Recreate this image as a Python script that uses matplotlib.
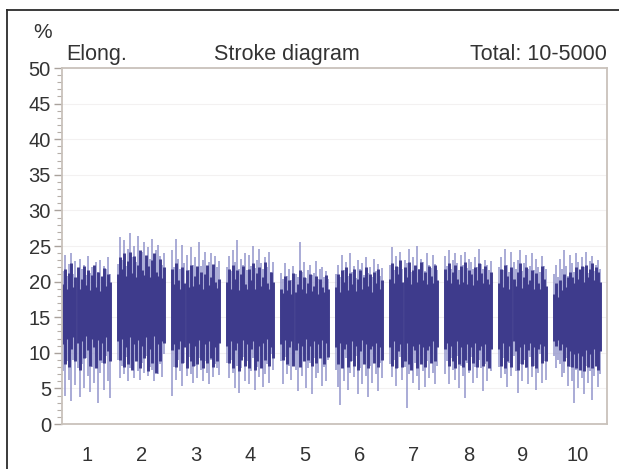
"""stroke_diagram.py - elongation stroke diagram, strokes 10-5000 in 10 blocks."""

import numpy as np
import matplotlib.pyplot as plt
from matplotlib.lines import Line2D

plt.rcParams["font.family"] = ["Liberation Sans", "DejaVu Sans"]

BLOCKS = ["1", "2", "3", "4", "5", "6", "7", "8", "9", "10"]
BLOCK_SIZE = 500

# light spikes: highest / lowest elongation reached in each stroke column (%)
SPIKE_HI = [
    [21.5, 23.8, 20.8, 22.5, 24.0, 21.0, 22.9, 20.5, 23.2, 21.7, 22.4, 20.9, 23.6, 21.2, 22.0, 20.6, 22.8, 21.4, 23.0, 20.7, 22.2, 21.8, 23.4, 21.0],
    [22.5, 26.2, 23.0, 25.8, 22.2, 24.6, 26.8, 23.4, 25.0, 22.8, 26.4, 23.8, 24.2, 25.6, 22.6, 24.8, 23.2, 26.0, 22.9, 24.4, 25.2, 23.6, 22.4, 24.0],
    [24.5, 22.0, 26.0, 23.2, 21.8, 25.2, 22.6, 23.8, 21.6, 24.8, 22.4, 23.4, 21.9, 25.6, 22.2, 23.0, 24.2, 21.7, 22.8, 24.0, 21.5, 23.6, 22.1, 22.9],
    [22.0, 23.6, 21.5, 24.4, 22.8, 25.8, 21.8, 23.2, 22.4, 24.0, 21.6, 23.8, 22.2, 25.0, 21.9, 23.0, 24.6, 22.6, 21.7, 23.4, 22.0, 24.2, 21.4, 22.7],
    [21.2, 20.4, 22.6, 20.8, 21.8, 20.2, 22.2, 21.0, 20.6, 25.6, 21.4, 22.8, 20.5, 21.6, 22.4, 20.9, 21.2, 22.9, 20.3, 21.7, 22.0, 20.7, 21.5, 20.4],
    [21.0, 22.4, 20.6, 23.8, 21.6, 22.8, 20.8, 24.0, 21.4, 22.2, 20.5, 23.0, 21.8, 22.6, 20.9, 23.4, 21.2, 22.0, 20.7, 23.2, 21.5, 22.5, 20.8, 21.9],
    [22.4, 24.8, 21.6, 23.6, 22.0, 24.2, 21.8, 23.0, 22.6, 24.6, 21.4, 23.4, 22.2, 25.0, 21.7, 23.2, 22.8, 21.5, 24.0, 22.3, 21.9, 23.8, 22.5, 21.6],
    [23.6, 22.2, 24.4, 21.8, 23.0, 24.0, 22.6, 21.6, 23.8, 22.4, 24.2, 21.9, 23.2, 22.8, 21.7, 23.4, 22.0, 24.6, 22.5, 21.8, 23.1, 22.3, 21.6, 22.9],
    [22.0, 23.4, 21.6, 24.6, 22.4, 21.4, 24.2, 22.8, 21.8, 23.0, 24.4, 21.5, 22.6, 23.8, 21.7, 22.2, 24.0, 21.6, 23.2, 22.0, 21.4, 23.6, 22.2, 21.8],
    [21.0, 22.4, 20.6, 23.2, 21.8, 24.4, 22.2, 20.8, 23.8, 22.6, 21.4, 24.0, 22.8, 21.6, 23.4, 22.0, 24.2, 21.2, 22.9, 23.6, 21.5, 22.3, 23.0, 21.8],
]
SPIKE_LO = [
    [7.5, 4.0, 8.8, 6.2, 3.2, 9.0, 5.5, 7.8, 3.8, 8.4, 5.0, 9.2, 6.8, 4.5, 8.0, 5.8, 9.4, 3.0, 7.2, 8.6, 4.8, 9.6, 6.0, 3.6],
    [9.0, 6.5, 8.2, 7.0, 9.4, 6.0, 7.8, 8.8, 6.4, 9.2, 7.4, 6.2, 8.6, 7.2, 9.6, 6.8, 8.0, 7.6, 6.1, 9.0, 7.0, 8.4, 6.6, 9.8],
    [4.0, 8.0, 6.2, 9.0, 7.4, 5.4, 8.6, 6.8, 9.4, 7.0, 5.8, 8.2, 6.4, 9.2, 7.6, 6.0, 8.8, 7.2, 5.6, 9.0, 6.6, 8.4, 7.8, 6.9],
    [8.6, 6.4, 9.0, 7.2, 5.0, 8.2, 4.4, 7.8, 9.4, 6.0, 8.8, 5.6, 7.4, 9.2, 4.8, 8.0, 6.6, 9.6, 5.2, 7.0, 8.4, 5.8, 9.8, 7.6],
    [8.8, 5.6, 9.4, 7.0, 8.2, 6.2, 9.0, 7.6, 4.6, 8.4, 6.8, 9.6, 5.0, 7.8, 8.6, 4.2, 9.2, 6.4, 7.2, 9.8, 5.4, 8.0, 6.0, 9.0],
    [7.6, 5.2, 2.6, 8.4, 6.0, 9.2, 4.8, 7.2, 8.8, 6.6, 9.6, 4.2, 7.8, 5.6, 9.0, 6.8, 3.8, 8.2, 5.8, 9.4, 7.0, 4.6, 8.6, 6.4],
    [8.4, 6.6, 9.0, 5.4, 7.8, 9.4, 6.2, 8.0, 2.2, 7.0, 9.2, 5.8, 8.6, 6.8, 4.8, 9.6, 7.4, 5.2, 8.8, 6.4, 9.8, 7.2, 5.6, 8.2],
    [7.0, 8.8, 5.6, 9.2, 7.6, 6.2, 9.6, 5.0, 8.2, 6.8, 3.6, 8.6, 7.2, 9.4, 5.8, 8.0, 6.4, 9.0, 7.8, 4.6, 8.4, 6.0, 9.8, 7.4],
    [8.0, 6.4, 9.2, 7.0, 5.2, 8.6, 6.8, 9.6, 7.4, 4.4, 8.4, 6.0, 9.0, 7.8, 5.6, 9.4, 6.6, 8.2, 4.8, 7.2, 9.8, 5.8, 8.8, 6.2],
    [9.6, 7.8, 9.0, 8.4, 6.6, 7.2, 9.2, 5.4, 8.0, 6.0, 3.0, 7.6, 5.0, 8.8, 6.4, 4.2, 8.2, 5.8, 7.4, 3.4, 6.8, 8.6, 5.2, 7.0],
]

# dark body: range covered by most strokes in each column (%)
CORE_HI = [
    [19.6, 21.8, 18.9, 21.2, 22.6, 19.2, 20.6, 22.0, 19.0, 20.4, 22.2, 19.5, 21.6, 18.8, 20.9, 22.4, 19.3, 21.4, 18.7, 20.8, 21.9, 19.4, 21.1, 20.0],
    [21.0, 23.4, 21.8, 24.0, 20.8, 22.9, 24.2, 21.2, 23.6, 20.6, 22.4, 24.4, 21.6, 20.9, 23.8, 22.2, 20.7, 23.0, 24.0, 21.4, 20.8, 23.2, 20.5, 22.0],
    [21.8, 19.6, 22.6, 20.2, 19.0, 22.0, 19.8, 21.6, 19.2, 22.4, 19.4, 20.8, 22.2, 19.7, 21.4, 18.9, 21.0, 22.3, 19.5, 20.6, 22.5, 20.0, 19.1, 20.4],
    [20.0, 21.8, 19.0, 22.4, 20.4, 21.6, 18.8, 21.0, 22.2, 19.6, 19.0, 21.8, 20.2, 22.6, 18.9, 21.2, 22.0, 19.4, 20.6, 22.8, 19.8, 19.0, 21.4, 20.0],
    [19.0, 18.4, 20.8, 18.8, 20.2, 18.2, 21.2, 18.6, 19.6, 21.6, 19.0, 20.6, 18.4, 19.8, 21.0, 18.7, 19.4, 20.8, 18.3, 20.4, 19.2, 18.5, 20.9, 18.9],
    [19.2, 21.0, 18.6, 21.6, 20.0, 22.0, 18.8, 21.2, 19.6, 21.8, 18.7, 20.4, 21.6, 19.0, 20.6, 22.0, 19.4, 21.0, 18.5, 21.4, 19.8, 21.8, 18.9, 20.2],
    [20.4, 22.6, 19.8, 22.2, 21.0, 23.0, 20.0, 22.0, 20.6, 22.8, 19.6, 21.6, 22.4, 19.9, 21.8, 22.8, 20.2, 21.4, 19.7, 22.2, 20.8, 19.8, 22.4, 20.2],
    [21.8, 20.2, 22.6, 19.8, 21.4, 22.4, 20.4, 19.6, 22.2, 20.0, 22.8, 19.7, 21.6, 21.0, 19.5, 22.0, 20.2, 22.6, 21.2, 19.8, 22.2, 20.4, 19.6, 21.4],
    [19.8, 21.8, 19.2, 22.4, 20.8, 19.0, 22.0, 20.4, 19.4, 21.4, 22.6, 19.1, 20.6, 22.0, 19.6, 20.2, 21.6, 18.9, 21.2, 19.8, 19.0, 22.2, 20.4, 19.4],
    [18.2, 19.8, 17.8, 20.2, 18.8, 21.0, 19.2, 20.6, 21.4, 20.6, 19.8, 22.0, 20.4, 21.8, 22.2, 20.0, 22.4, 20.6, 21.8, 22.6, 20.2, 22.0, 21.4, 20.0],
]
CORE_LO = [
    [11.2, 8.4, 12.0, 8.0, 10.6, 12.2, 8.8, 11.4, 7.6, 11.6, 9.2, 12.4, 10.4, 8.2, 12.0, 10.8, 7.8, 11.8, 9.0, 11.4, 8.6, 12.2, 10.2, 8.8],
    [11.6, 9.0, 12.0, 8.0, 10.8, 8.4, 12.2, 7.6, 11.2, 8.8, 11.8, 7.8, 11.0, 9.2, 12.2, 7.4, 10.6, 8.6, 12.4, 7.2, 11.2, 8.8, 11.6, 11.4],
    [10.4, 11.2, 8.0, 10.6, 11.6, 8.6, 10.8, 7.8, 11.4, 8.8, 8.2, 11.0, 8.4, 11.8, 9.0, 7.9, 11.2, 8.6, 11.6, 9.2, 8.0, 10.8, 8.8, 11.4],
    [11.0, 8.6, 11.6, 7.8, 10.4, 11.4, 7.4, 9.0, 11.8, 8.2, 11.2, 7.9, 10.6, 11.6, 7.6, 8.8, 11.0, 7.8, 11.4, 9.0, 12.0, 8.2, 10.8, 9.2],
    [11.2, 9.0, 11.8, 8.4, 10.8, 11.6, 8.2, 10.4, 11.4, 8.0, 11.0, 8.8, 12.0, 9.0, 11.0, 8.2, 11.6, 8.6, 11.2, 9.2, 11.8, 8.4, 11.4, 9.4],
    [10.8, 8.4, 11.4, 7.8, 10.6, 11.2, 8.0, 8.8, 11.6, 8.2, 11.0, 7.6, 10.2, 11.8, 8.4, 11.2, 7.8, 10.6, 11.0, 8.6, 11.4, 8.0, 10.8, 9.0],
    [10.8, 8.2, 11.6, 7.8, 10.2, 11.2, 8.0, 8.8, 11.4, 8.4, 7.6, 11.0, 10.4, 7.8, 11.2, 8.4, 10.8, 8.0, 10.4, 11.0, 8.6, 11.6, 8.8, 10.8],
    [10.6, 11.4, 8.2, 11.0, 8.8, 7.8, 11.6, 8.4, 10.8, 8.0, 9.0, 11.2, 7.6, 10.8, 8.6, 11.4, 8.0, 10.4, 11.0, 8.2, 11.2, 8.8, 7.8, 10.6],
    [10.6, 8.2, 11.4, 7.8, 8.8, 11.0, 8.0, 11.6, 10.2, 7.6, 10.8, 8.4, 11.2, 8.0, 10.4, 11.4, 8.2, 10.8, 7.8, 10.6, 11.2, 8.6, 11.0, 8.8],
    [11.6, 11.0, 11.8, 10.4, 11.2, 8.8, 10.8, 8.2, 10.2, 8.0, 9.8, 7.8, 10.0, 7.6, 9.6, 7.4, 10.4, 8.0, 9.8, 7.8, 10.6, 8.2, 7.6, 10.2],
]

SPIKE_COLOR = "#9294cb"
CORE_COLOR = "#3e3b8c"
TEXT_COLOR = "#333333"
AXIS_COLOR = "#c9c2bb"


def plot_strokes(ax):
    for i in range(len(BLOCKS)):
        start = i * BLOCK_SIZE + 12
        end = i * BLOCK_SIZE + 440
        x = np.linspace(start, end, len(SPIKE_HI[i]))
        ax.vlines(x, SPIKE_LO[i], SPIKE_HI[i], color=SPIKE_COLOR, linewidth=1.1)
        ax.vlines(x, CORE_LO[i], CORE_HI[i], color=CORE_COLOR, linewidth=2.1)


def main():
    fig = plt.figure(figsize=(6.19, 4.69), dpi=100)
    fig.patch.set_facecolor("white")

    # outer frame of the screenshot
    fig.add_artist(Line2D([7 / 619, 7 / 619], [0, 1 - 10 / 469], transform=fig.transFigure,
                          color="#2b2b2b", linewidth=1.3))
    fig.add_artist(Line2D([7 / 619, 1], [1 - 10 / 469, 1 - 10 / 469], transform=fig.transFigure,
                          color="#2b2b2b", linewidth=1.3))

    ax = fig.add_axes([62 / 619, 45 / 469, 545 / 619, 356 / 469])
    plot_strokes(ax)

    ax.set_xlim(0, len(BLOCKS) * BLOCK_SIZE)
    ax.set_ylim(0, 50)
    ax.set_yticks(np.arange(0, 51, 5))
    ax.set_yticks(np.arange(0, 51, 1), minor=True)
    ax.set_xticks([i * BLOCK_SIZE + 228 for i in range(len(BLOCKS))])
    ax.set_xticklabels(BLOCKS)
    ax.grid(axis="y", color="#f3f1f1", linewidth=0.8)
    ax.set_axisbelow(True)

    for spine in ax.spines.values():
        spine.set_color(AXIS_COLOR)
        spine.set_linewidth(1.3)
    ax.tick_params(axis="y", which="major", length=6, width=1.0, color="#a9a29c",
                   labelsize=14.5, labelcolor=TEXT_COLOR, pad=2)
    ax.tick_params(axis="y", which="minor", length=3.5, width=0.8, color="#b5aea8")
    ax.tick_params(axis="x", length=0, labelsize=14.5, labelcolor=TEXT_COLOR, pad=16)

    ax.text(0.008, 1.008, "Elong.", transform=ax.transAxes, ha="left", va="bottom",
            fontsize=15.5, color=TEXT_COLOR)
    ax.text(0.413, 1.008, "Stroke diagram", transform=ax.transAxes, ha="center", va="bottom",
            fontsize=15.5, color=TEXT_COLOR)
    ax.text(1.0, 1.008, "Total: 10-5000", transform=ax.transAxes, ha="right", va="bottom",
            fontsize=15.5, color=TEXT_COLOR)
    fig.text(43 / 619, 1 - 33 / 469, "%", ha="center", va="center", fontsize=15,
             color=TEXT_COLOR)

    fig.savefig("out.png", dpi=100)


if __name__ == "__main__":
    main()
